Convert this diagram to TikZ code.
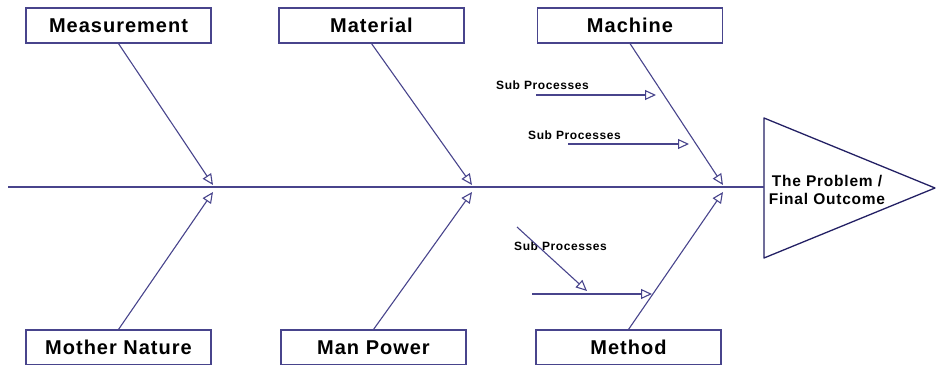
\documentclass[tikz,border=0pt]{standalone}
\usepackage{fontspec}
\setmainfont[LetterSpace=5]{Liberation Sans}
\usetikzlibrary{arrows.meta}
\definecolor{bonenavy}{RGB}{72,68,140}
\definecolor{headnavy}{RGB}{35,32,100}

\begin{document}
\begin{tikzpicture}[x=1pt,y=-1pt,
		cause/.style={draw=bonenavy,line width=1.1pt,minimum width=185pt,minimum height=35pt,inner sep=0pt,font=\fontsize{20}{23}\selectfont\bfseries},
		bone/.style={draw=bonenavy,line width=1.1pt,-{Triangle[open,length=11pt,width=10pt]}},
		sublabel/.style={anchor=west,inner sep=0pt,font=\fontsize{12}{14}\selectfont\bfseries}]
	\useasboundingbox (0,0) rectangle (936,364);
	
	% Causes on top
	\node[cause] (measure) at (118.5,25.5) {\raisebox{-1.5pt}{Measurement}};
	\node[cause] (material) at (371.5,25.5) {\raisebox{-1.5pt}{Material}};
	\node[cause] (machine) at (630,25.5) {\raisebox{-1.5pt}{Machine}};
	
	% Causes below
	\node[cause] (nature) at (118.5,347.5) {\raisebox{-1.5pt}{Mother Nature}};
	\node[cause] (manpower) at (373.5,347.5) {\raisebox{-1.5pt}{Man Power}};
	\node[cause] (method) at (628.5,347.5) {\raisebox{-1.5pt}{Method}};
	
	% Head
	\coordinate (headtop) at (764,118);
	\coordinate (headbot) at (764,258);
	\coordinate (headtip) at (935,188);
	\draw[headnavy,line width=1.3pt,line join=round] (headtop) -- (headtip) -- (headbot) -- cycle;
	\node[align=center,font=\fontsize{15.5}{18}\selectfont\bfseries] (problem) at (827,190) {The Problem /\\Final Outcome};
	
	% Spine
	\coordinate (tail) at (8,187);
	\coordinate (neck) at (764,187);
	\draw[bonenavy,line width=1.1pt] (tail) -- (neck);
	
	% Bones
	\coordinate (m1) at (213,185);
	\coordinate (m2) at (472,185);
	\coordinate (m3) at (723,185);
	\coordinate (n1) at (213,192);
	\coordinate (n2) at (472,192);
	\coordinate (n3) at (723,192);
	\draw[bone] (measure.south) -- (m1);
	\draw[bone] (material.south) -- (m2);
	\draw[bone] (machine.south) -- (m3);
	\draw[bone] (nature.north) -- (n1);
	\draw[bone] (manpower.north) -- (n2);
	\draw[bone] (method.north) -- (n3);
	
	% Sub processes
	\node[sublabel] (sub1) at (496,85) {Sub Processes};
	\node[sublabel] (sub2) at (528,135) {Sub Processes};
	\node[sublabel] (sub3) at (514,246) {Sub Processes};
	\coordinate (s1a) at (536,95);
	\coordinate (s1b) at (656,95);
	\coordinate (s2a) at (568,144);
	\coordinate (s2b) at (689,144);
	\coordinate (s3a) at (517,227);
	\coordinate (s3b) at (587,291);
	\coordinate (s4a) at (532,294);
	\coordinate (s4b) at (652,294);
	\draw[bone] (s1a) -- (s1b);
	\draw[bone] (s2a) -- (s2b);
	\draw[bone] (s3a) -- (s3b);
	\draw[bone] (s4a) -- (s4b);
\end{tikzpicture}
\end{document}
